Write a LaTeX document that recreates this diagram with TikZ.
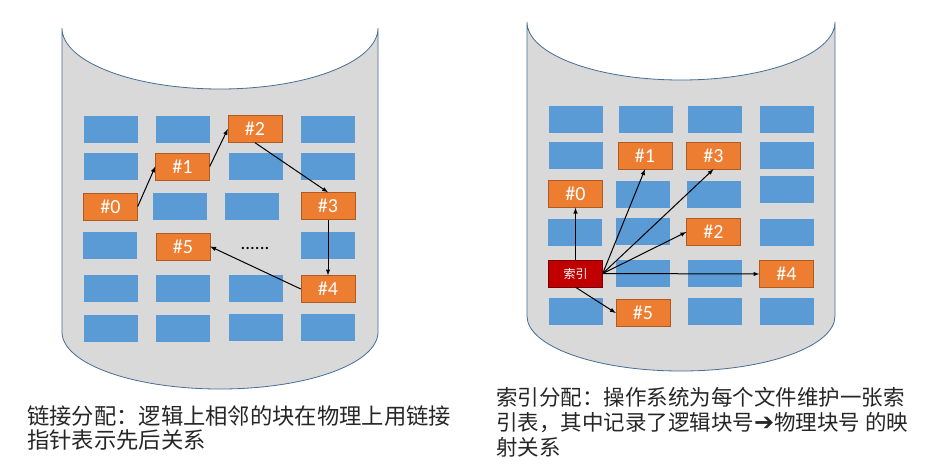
\documentclass[tikz,border=0pt]{standalone}
\usepackage{fontspec}
\newfontfamily\cjk{Noto Sans CJK SC}
\newfontfamily\lat{Carlito}
\newfontfamily\sym{DejaVu Sans}
\definecolor{diskgray}{RGB}{217,217,217}
\definecolor{diskrim}{RGB}{70,110,150}
\definecolor{blkblue}{RGB}{91,155,213}
\definecolor{hitorange}{RGB}{237,125,49}
\definecolor{hitrim}{RGB}{174,90,33}
\definecolor{idxred}{RGB}{192,0,0}
\definecolor{idxrim}{RGB}{120,0,0}
\tikzstyle{cyl}=[fill=diskgray, draw=diskrim, line width=0.8pt]
\tikzstyle{blk}=[shape=rectangle,
	       fill=blkblue,
	       inner sep=0pt,
	       minimum width=54pt,
	       minimum height=27pt]
\tikzstyle{hit}=[blk,
	       fill=hitorange,
	       draw=hitrim,
	       thin,
	       text=white,
	       font=\lat\fontsize{20}{20}\selectfont]
\tikzstyle{idx}=[blk,
	       fill=idxred,
	       draw=idxrim,
	       thin,
	       text=white,
	       font=\cjk\fontsize{12}{12}\selectfont]
\tikzstyle{captxt}=[inner sep=0pt, align=left, text=black!85]

\begin{document}
\begin{tikzpicture}[x=1pt, y=-1pt, >=latex]
\useasboundingbox (0,0) rectangle (933,475);

% the two disks
\path[cyl] (62,28) -- (62,332) arc[start angle=180, end angle=360, x radius=158pt, y radius=57pt]
  -- (378,28) arc[start angle=0, end angle=-180, x radius=158pt, y radius=61pt] -- cycle;
\path[cyl] (527,22) -- (527,316) arc[start angle=180, end angle=360, x radius=154pt, y radius=55pt]
  -- (835,22) arc[start angle=0, end angle=-180, x radius=154pt, y radius=58pt] -- cycle;

% left disk: free blocks
\node[blk] (a11) at (110.5,129.5) {};
\node[blk] (a12) at (183,129.5) {};
\node[blk] (a14) at (328,129.5) {};
\node[blk] (a21) at (110.5,166.5) {};
\node[blk] (a23) at (255.5,166.5) {};
\node[blk] (a24) at (328,166.5) {};
\node[blk] (a32) at (180,206.5) {};
\node[blk] (a33) at (251.5,206.5) {};
\node[blk] (a41) at (110,245.5) {};
\node[blk] (a44) at (328,245.5) {};
\node[blk] (a51) at (110.5,288) {};
\node[blk] (a52) at (183,288) {};
\node[blk] (a53) at (255.5,288) {};
\node[blk] (a61) at (110.5,328) {};
\node[blk] (a62) at (183,328) {};
\node[blk] (a63) at (255.5,327) {};
\node[blk] (a64) at (328,327) {};

% left disk: the linked file
\node[hit] (l0) at (110.5,206.5) {\#0};
\node[hit] (l1) at (182.5,166.5) {\#1};
\node[hit] (l2) at (255,129) {\#2};
\node[hit] (l3) at (328,206) {\#3};
\node[hit] (l4) at (328,289) {\#4};
\node[hit] (l5) at (183,246.5) {\#5};
\node[font=\lat\fontsize{19}{19}\selectfont, anchor=base] (dots) at (255,249) {......};

\draw[->, line width=1pt] (l0.east) -- (l1.west);
\draw[->, line width=1pt] (l1.east) -- (l2.west);
\draw[->, line width=1pt] (l2.south) -- (l3.north);
\draw[->, line width=1pt] (l3.south) -- (l4.north);
\draw[->, line width=1pt] (l4.west) -- (l5.east);

% right disk: free blocks
\node[blk] (b11) at (575.5,119) {};
\node[blk] (b12) at (645.5,119) {};
\node[blk] (b13) at (714.5,119) {};
\node[blk] (b14) at (786.5,119) {};
\node[blk] (b21) at (575.5,155.5) {};
\node[blk] (b24) at (786.5,155.5) {};
\node[blk] (b32) at (643,194) {};
\node[blk] (b33) at (713.5,194) {};
\node[blk] (b34) at (787,189) {};
\node[blk] (b41) at (574.5,232) {};
\node[blk] (b42) at (643,231) {};
\node[blk] (b44) at (786.5,232) {};
\node[blk] (b52) at (643,273) {};
\node[blk] (b53) at (715,273) {};
\node[blk] (b61) at (575.5,311.5) {};
\node[blk] (b63) at (715,311.5) {};
\node[blk] (b64) at (786.5,311.5) {};

% right disk: index block and the file
\node[idx] (ix) at (575.5,273.5) {索引};
\node[hit] (r0) at (575.5,194) {\#0};
\node[hit] (r1) at (645,155.5) {\#1};
\node[hit] (r2) at (713.5,232) {\#2};
\node[hit] (r3) at (713.5,155.5) {\#3};
\node[hit] (r4) at (786.5,274) {\#4};
\node[hit] (r5) at (643,313) {\#5};

\draw[->, line width=1pt] (ix.north) -- (r0.south);
\draw[->, line width=1pt] (ix.east) -- (r1.south);
\draw[->, line width=1pt] (ix.east) -- (r3.south);
\draw[->, line width=1pt] (ix.east) -- (r2.west);
\draw[->, line width=1pt] (ix.east) -- (r4.west);
\draw[->, line width=1pt] (ix.south) -- (r5.west);

% captions
\node[captxt, anchor=north west, font=\cjk\fontsize{22.3}{24}\selectfont] (capl) at (27,405)
  {链接分配：逻辑上相邻的块在物理上用链接\\指针表示先后关系};
\node[captxt, anchor=north west, font=\cjk\fontsize{21.5}{25}\selectfont] (capr) at (496,387)
  {索引分配：操作系统为每个文件维护一张索\\引表，其中记录了逻辑块号{\sym\fontsize{24}{25}\selectfont ➔}物理块号 的映\\射关系};

\end{tikzpicture}
\end{document}
